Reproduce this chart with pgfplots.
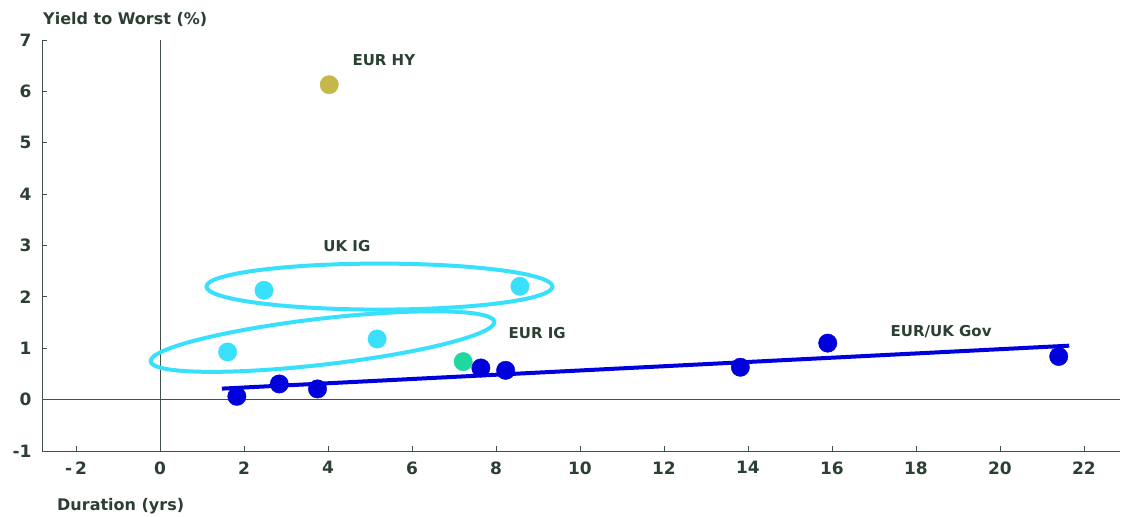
\documentclass[border=0pt]{standalone}
\usepackage{pgfplots}
\pgfplotsset{compat=1.18}
\usepackage{fontspec}
\setmainfont{DejaVu Sans}
\definecolor{txt}{HTML}{2B4033}
\definecolor{axc}{HTML}{3F5247}
\definecolor{gblue}{HTML}{0000DD}
\definecolor{gcyan}{HTML}{38E0FC}
\definecolor{ggreen}{HTML}{1ED8A0}
\definecolor{golive}{HTML}{C5B84A}
\begin{document}
\begin{tikzpicture}
\useasboundingbox (0,0) rectangle (1128pt,517pt);
\begin{axis}[
  at={(42pt,66pt)}, anchor=south west,
  width=1078pt, height=411pt, scale only axis,
  xmin=-2.81, xmax=22.86, ymin=-1, ymax=7,
  axis lines=left, axis line style={-, draw=axc, line width=0.9pt},
  xtick={-2,0,...,22},
  xticklabels={-\kern3pt2,0,2,4,6,8,10,12,14,16,18,20,22},
  ytick={-1,0,...,7},
  yticklabels={-1,0,1,2,3,4,5,6,7},
  tick align=inside, major tick length=5pt,
  tick style={draw=axc, line width=0.8pt},
  ticklabel style={font=\fontsize{17}{17}\selectfont\bfseries, text=txt},
  xticklabel style={yshift=-7pt},
  yticklabel style={xshift=-7pt},
  clip=false,
]
\draw[axc, line width=0.9pt] (axis cs:0,-1) -- (axis cs:0,7);
\draw[axc, line width=0.9pt] (axis cs:-2.81,0) -- (axis cs:22.86,0);
\coordinate (e1) at (axis cs:5.226,2.20);
\coordinate (e2) at (axis cs:3.87,1.13);
% trend line
\addplot[gblue, line width=4pt] coordinates {(1.476,0.214) (21.65,1.05)};
% EUR/UK Gov
\addplot[only marks, mark=*, mark size=9.2pt, mark options={draw=gblue, fill=gblue}] coordinates {
(1.83,0.064) (2.84,0.305) (3.75,0.208) (7.64,0.616) (8.23,0.57) (13.82,0.63) (15.9,1.1) (21.4,0.84)};
% EUR IG (green)
\addplot[only marks, mark=*, mark size=9.2pt, mark options={draw=ggreen, fill=ggreen}] coordinates {(7.22,0.74)};
% UK IG / EUR IG cyan
\addplot[only marks, mark=*, mark size=9.2pt, mark options={draw=gcyan, fill=gcyan}] coordinates {
(2.476,2.128) (8.57,2.206) (1.61,0.928) (5.17,1.18)};
% EUR HY
\addplot[only marks, mark=*, mark size=9.2pt, mark options={draw=golive, fill=golive}] coordinates {(4.03,6.13)};
\node[font=\fontsize{15}{15}\selectfont\bfseries, text=txt] at (axis cs:5.33,6.6) {EUR HY};
\node[font=\fontsize{15}{15}\selectfont\bfseries, text=txt] at (axis cs:4.45,2.98) {UK IG};
\node[font=\fontsize{15}{15}\selectfont\bfseries, text=txt] at (axis cs:8.98,1.30) {EUR IG};
\node[font=\fontsize{15}{15}\selectfont\bfseries, text=txt] at (axis cs:18.6,1.32) {EUR/UK Gov};
\end{axis}
\draw[gcyan, line width=4pt] (e1) ellipse [x radius=173pt, y radius=23pt];
\draw[gcyan, line width=4pt, rotate around={6.6:(e2)}] (e2) ellipse [x radius=173pt, y radius=23pt];
\node[anchor=base west, inner sep=0pt, font=\fontsize{16}{16}\selectfont\bfseries, text=txt] at (43pt,492pt) {Yield to Worst (\%)};
\node[anchor=base west, inner sep=0pt, font=\fontsize{16}{16}\selectfont\bfseries, text=txt] at (57pt,6pt) {Duration (yrs)};
\end{tikzpicture}
\end{document}
